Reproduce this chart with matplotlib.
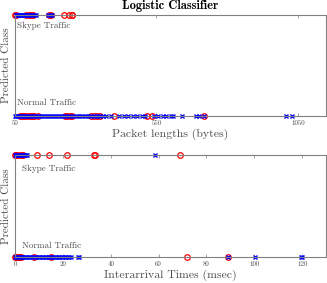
import numpy as np
import matplotlib
matplotlib.use('Agg')
import matplotlib.pyplot as plt

plt.rcParams['font.family'] = 'cmr10'
plt.rcParams['mathtext.fontset'] = 'cm'
plt.rcParams['axes.unicode_minus'] = False

# packet length data (bytes): predicted class 1 = Skype, 0 = normal
len_blue_skype = [52, 55, 58, 60, 63, 66, 70, 73, 76, 80, 84, 88, 92, 96, 100,
                  105, 110, 115, 120, 124, 168, 172, 176, 180]
len_red_skype = [51, 54, 90, 100, 108, 113, 170, 176,
                 223, 242, 250, 253]
len_blue_normal = [50, 54, 58, 62, 66, 70, 75, 80, 85, 90, 95, 100, 106, 112,
                   118, 124, 130, 136, 142, 148, 155, 162, 169, 176, 183, 190,
                   197, 204, 211, 218, 225, 232, 240, 248, 256, 264, 272, 280,
                   288, 296, 304, 312, 320, 328, 336, 344, 352, 360, 370, 388,
                   419, 437, 450, 468, 480, 499, 511, 542, 554, 573, 585, 603,
                   610, 640, 690, 702, 720, 1009, 1028]
len_red_normal = [68, 75, 82, 90, 98, 105, 112, 118, 131, 227, 235, 245, 253,
                  320, 330, 340, 352, 400, 518, 536, 720]

# interarrival time data (msec)
iat_blue_skype = [0.1, 0.3, 0.5, 0.8, 1.0, 1.3, 1.6, 2.0, 2.4, 2.8, 3.2, 3.6,
                  4.0, 4.5, 5.0, 58.3]
iat_red_skype = [0.0, 0.5, 1.0, 2.0, 3.0, 3.5, 9.1, 14.3, 21.7,
                 33.2, 33.5, 69.1]
iat_blue_normal = [0.0, 0.4, 0.8, 1.2, 1.6, 2.0, 2.5, 3.0, 3.5, 4.0, 4.6, 5.2,
                   5.8, 6.4, 7.0, 7.6, 8.2, 8.8, 9.4, 10.0, 10.6, 11.2, 11.8,
                   12.4, 13.0, 13.6, 14.2, 14.8, 15.4, 16.0, 16.6, 17.2, 17.8,
                   18.4, 19.0, 19.6, 20.2, 20.8, 21.4, 22.0, 22.6, 23.4, 26.2,
                   26.9, 89.0, 100.3, 119.6, 120.0]
iat_red_normal = [0.0, 0.5, 1.0, 1.5, 2.0, 2.5, 8.0, 15.0, 71.7, 89.0]

gray = '0.5'
txt = '0.3'

fig = plt.figure(figsize=(3.27, 2.83), dpi=100)
ax1 = fig.add_axes([0.046, 0.590, 0.951, 0.357])
ax2 = fig.add_axes([0.046, 0.092, 0.951, 0.360])

def draw(ax, bs, rs, bn, rn):
    ax.plot(rn, np.zeros(len(rn)), 'o', mfc='none', mec='r', ms=4, mew=0.9, clip_on=False)
    ax.plot(rs, np.ones(len(rs)), 'o', mfc='none', mec='r', ms=4, mew=0.9, clip_on=False)
    ax.plot(bn, np.zeros(len(bn)), 'bx', ms=3.3, mew=1.0, clip_on=False)
    ax.plot(bs, np.ones(len(bs)), 'bx', ms=3.3, mew=1.0, clip_on=False)
    ax.set_ylim(0, 1)
    ax.set_yticks([])
    for s in ax.spines.values():
        s.set_color(gray)
        s.set_linewidth(0.8)
    ax.tick_params(axis='x', direction='in', length=2.5, width=0.5, colors=gray,
                   labelsize=5, top=True, pad=3, labelcolor=txt)
    ax.set_ylabel('Predicted Class', fontsize=8, color=txt, labelpad=3)

draw(ax1, len_blue_skype, len_red_skype, len_blue_normal, len_red_normal)
ax1.set_xlim(50, 1150)
ax1.set_xticks([50, 550, 1050])
ax1.set_xlabel('Packet lengths (bytes)', fontsize=8.5, color=txt, labelpad=2)
ax1.set_title('Logistic Classifier', fontsize=9, fontfamily='cmb10', pad=4)
ax1.text(58, 0.89, 'Skype Traffic', fontsize=6.5, color=txt, va='center')
ax1.text(58, 0.13, 'Normal Traffic', fontsize=6.5, color=txt, va='center')

draw(ax2, iat_blue_skype, iat_red_skype, iat_blue_normal, iat_red_normal)
ax2.set_xlim(0, 130)
ax2.set_xticks(np.arange(0, 121, 20))
ax2.set_xlabel('Interarrival Times (msec)', fontsize=8.5, color=txt, labelpad=2)
ax2.text(2.8, 0.87, 'Skype Traffic', fontsize=6.5, color=txt, va='center')
ax2.text(2.8, 0.11, 'Normal Traffic', fontsize=6.5, color=txt, va='center')

fig.savefig('out.png', dpi=100)
